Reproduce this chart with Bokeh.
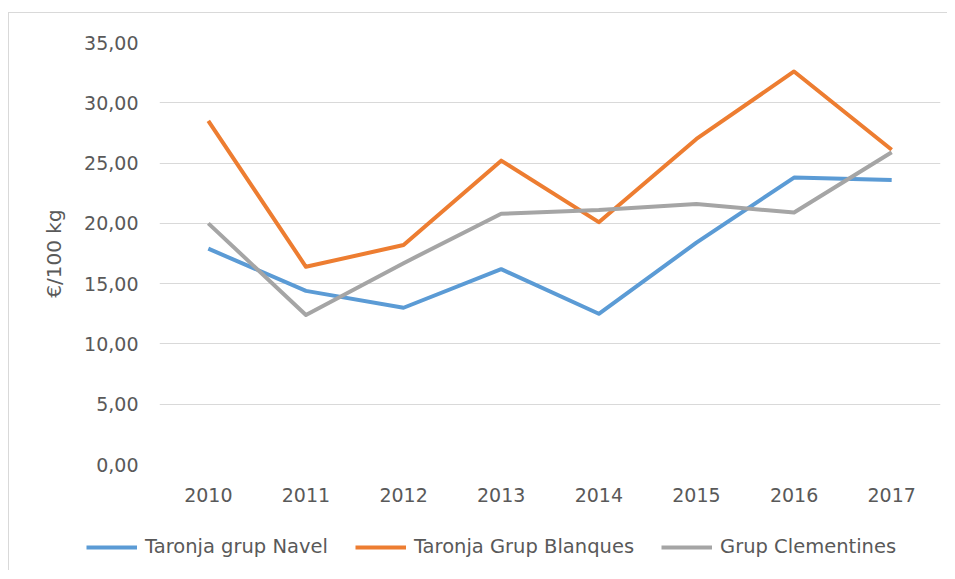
from bokeh.plotting import figure
from bokeh.layouts import column
from bokeh.models import (FactorRange, Range1d, FixedTicker, CustomJSTickFormatter,
                          Legend, LegendItem, ColumnDataSource)
from bokeh.embed import file_html
from bokeh.resources import INLINE

years = ["2010", "2011", "2012", "2013", "2014", "2015", "2016", "2017"]
navel = [17.9, 14.4, 13.0, 16.2, 12.5, 18.4, 23.8, 23.6]
blanques = [28.5, 16.4, 18.2, 25.2, 20.1, 27.0, 32.6, 26.1]
clementines = [20.0, 12.4, 16.7, 20.8, 21.1, 21.6, 20.9, 25.9]
series_names = ["Taronja grup Navel", "Taronja Grup Blanques", "Grup Clementines"]
y_ticks = [0, 5, 10, 15, 20, 25, 30, 35]
y_label = "€/100 kg"

colors = ["#5B9BD5", "#ED7D31", "#A5A5A5"]
FONT = "DejaVu Sans"
TXT = "#595959"
BORDER = "1px solid #D9D9D9"

p = figure(width=939, height=502, x_range=FactorRange(*years, range_padding=0),
           y_range=Range1d(0, 35), output_backend="svg", toolbar_location=None,
           min_border_left=150, min_border_right=8, min_border_top=29,
           min_border_bottom=51)
p.margin = (12, 0, 0, 8)
p.styles = {"border-top": BORDER, "border-left": BORDER}
p.frame_align = False
p.outline_line_color = None
p.xgrid.grid_line_color = None
p.ygrid.grid_line_color = "#D9D9D9"
p.ygrid.grid_line_width = 1

p.yaxis.ticker = FixedTicker(ticks=y_ticks)
p.yaxis.formatter = CustomJSTickFormatter(code="return tick.toFixed(2).replace('.', ',');")
for ax in (p.xaxis[0], p.yaxis[0]):
    ax.axis_line_color = None
    ax.major_tick_line_color = None
    ax.minor_tick_line_color = None
    ax.major_label_text_font = FONT
    ax.major_label_text_font_size = "19px"
    ax.major_label_text_color = TXT
p.xaxis.major_label_standoff = 17
p.yaxis.major_label_standoff = 15
p.yaxis.axis_label = y_label
p.yaxis.axis_label_text_font = FONT
p.yaxis.axis_label_text_font_size = "20px"
p.yaxis.axis_label_text_font_style = "normal"
p.yaxis.axis_label_text_color = TXT
p.yaxis.axis_label_standoff = 15

all_series = [navel, blanques, clementines]
for vals, c in zip(all_series, colors):
    src = ColumnDataSource(dict(x=years, y=vals))
    p.line("x", "y", source=src, line_color=c, line_width=4, line_join="round")

# legend strip below the chart (series drawn out of view, only the legend shows)
lf = figure(width=939, height=56, x_range=FactorRange(*years, range_padding=0),
            y_range=Range1d(100, 101), output_backend="svg", toolbar_location=None,
            min_border_left=0, min_border_right=0, min_border_top=0, min_border_bottom=0)
lf.margin = (0, 0, 0, 8)
lf.styles = {"border-left": BORDER}
lf.frame_align = False
lf.outline_line_color = None
lf.xaxis.visible = False
lf.yaxis.visible = False
lf.grid.visible = False

items = []
for name, vals, c in zip(series_names, all_series, colors):
    src = ColumnDataSource(dict(x=years, y=vals))
    r = lf.line("x", "y", source=src, line_color=c, line_width=4)
    items.append(LegendItem(label=name, renderers=[r]))

legend = Legend(items=items, orientation="horizontal", location=(77, 12),
                glyph_width=51, glyph_height=20, label_standoff=8, spacing=27,
                padding=0, margin=0, border_line_color=None, background_fill_alpha=0,
                label_text_font=FONT, label_text_font_size="19.5px", label_text_color=TXT)
lf.add_layout(legend, "center")

layout = column(p, lf, spacing=0)
open("out.html", "w").write(file_html(layout, INLINE))
